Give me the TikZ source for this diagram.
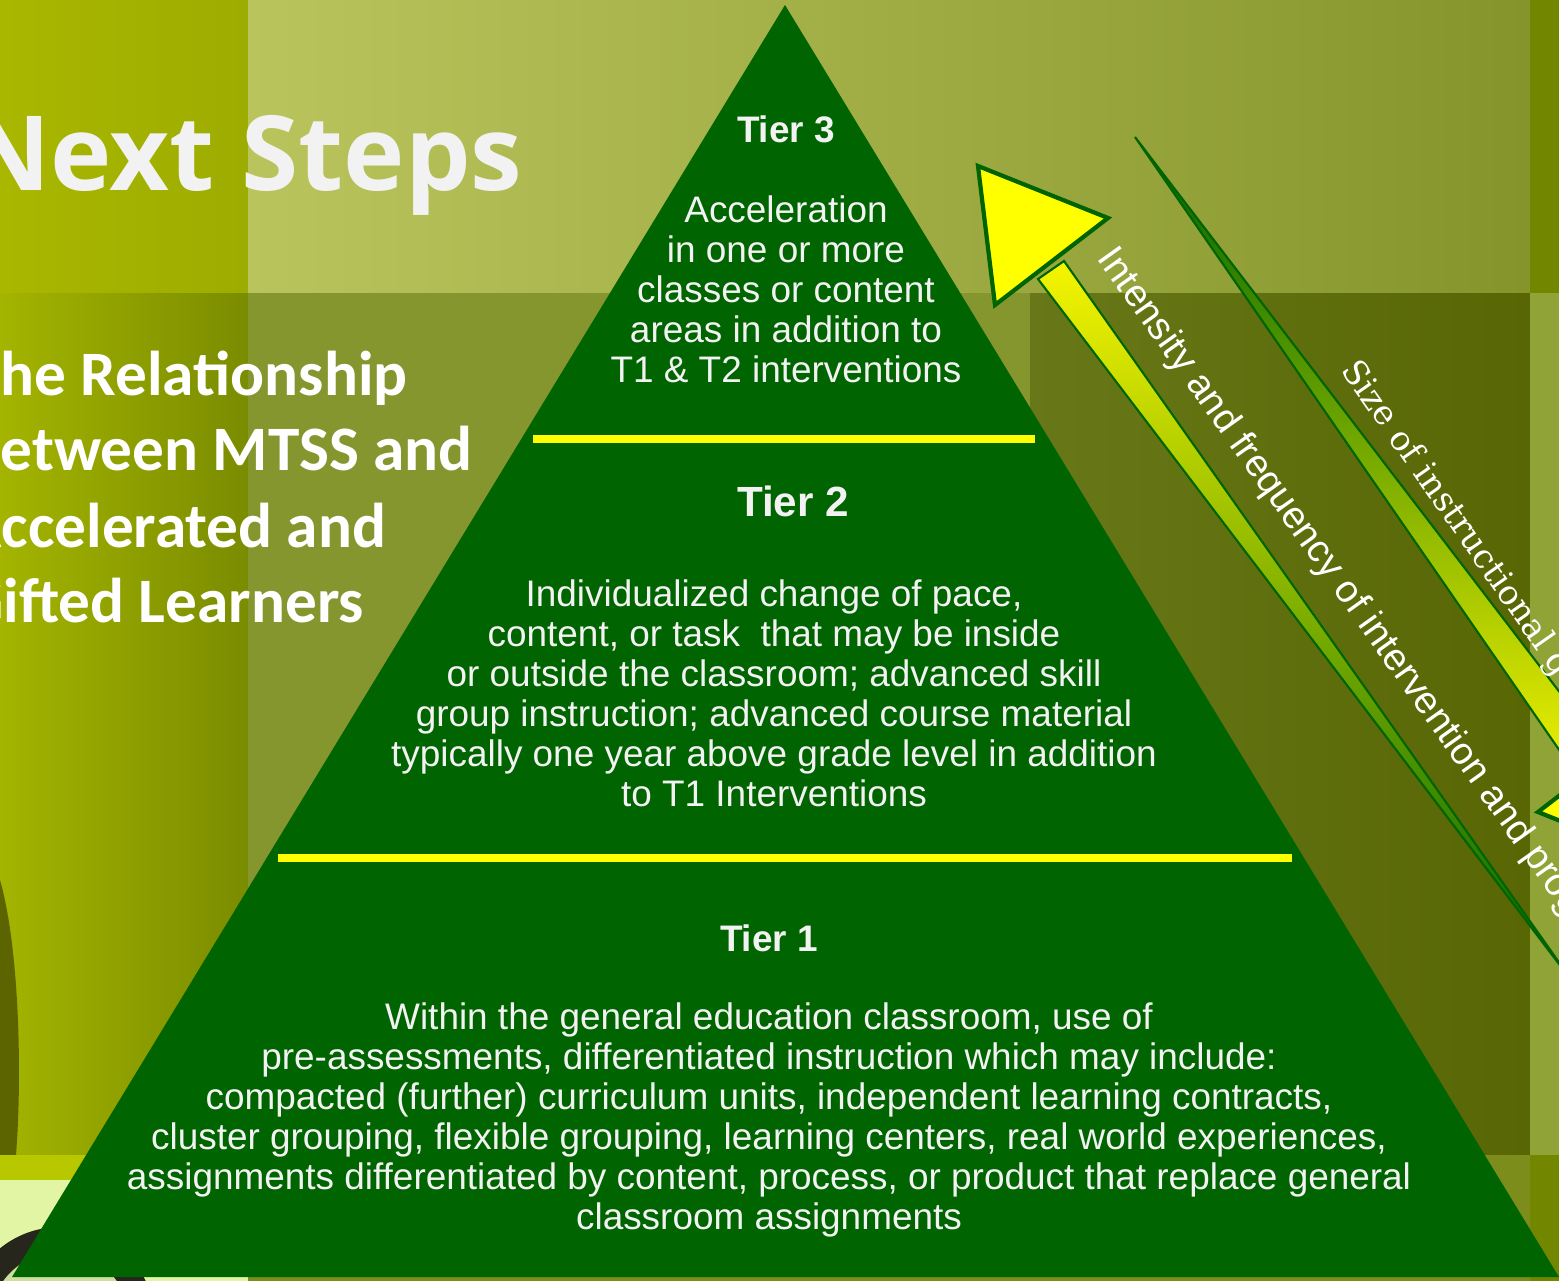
\documentclass[tikz,border=0pt]{standalone}
\usepackage{fontspec}
\setmainfont{Liberation Sans}
\newfontfamily\slidefont{Open Sans}
\newfontfamily\subfont{Carlito}
\newfontfamily\arrowserif{DejaVu Serif}
\definecolor{pyrgreen}{RGB}{0,100,0}
\definecolor{sepyellow}{RGB}{255,255,0}
\definecolor{textwhite}{RGB}{242,242,242}
\definecolor{tla}{RGB}{169,183,0}
\definecolor{tlb}{RGB}{157,172,0}
\definecolor{tma}{RGB}{186,196,92}
\definecolor{tmb}{RGB}{133,149,44}
\definecolor{tr}{RGB}{115,134,0}
\definecolor{mla}{RGB}{164,180,0}
\definecolor{mlb}{RGB}{122,140,0}
\definecolor{mc}{RGB}{134,150,47}
\definecolor{mra}{RGB}{104,120,24}
\definecolor{mrb}{RGB}{88,102,4}
\definecolor{mrstrip}{RGB}{144,163,54}
\definecolor{bandyellow}{RGB}{184,200,0}
\definecolor{palebg}{RGB}{226,245,165}
\definecolor{bottomolive}{RGB}{125,141,28}
\definecolor{darkolive}{RGB}{92,100,0}
\definecolor{ringdark}{RGB}{38,38,28}
\definecolor{shaftmid}{RGB}{120,180,0}
\definecolor{shafttop}{RGB}{245,245,0}
\tikzset{
  tiertitle/.style={text=textwhite, inner sep=0pt, font=\bfseries\fontsize{10.5}{12}\selectfont},
  tierbody/.style={text=textwhite, align=center, inner sep=0pt, font=\fontsize{10.5}{11.38}\selectfont},
  sepline/.style={draw=sepyellow, line width=2pt},
  headtri/.style={fill=sepyellow, draw=pyrgreen, line width=1.2pt, line join=miter},
  shaftline/.style={draw=pyrgreen, line width=0.6pt, line join=miter},
  subline/.style={anchor=base west, inner sep=0pt, text=white, font=\subfont\bfseries\fontsize{18}{21.6}\selectfont}
}
\begin{document}
\begin{tikzpicture}[x=0.01cm, y=-0.01cm]
\useasboundingbox (0,0) rectangle (1559,1281);
\begin{scope}
\clip (0,0) rectangle (1559,1281);
% background panels
\shade[left color=tla, right color=tlb] (0,0) rectangle (248,293);
\shade[left color=tma, right color=tmb] (248,0) rectangle (1530,293);
\fill[tr] (1530,0) rectangle (1559,293);
\shade[left color=mla, right color=mlb] (0,293) rectangle (248,1155);
\fill[mc] (248,293) rectangle (1030,1155);
\shade[left color=mra, right color=mrb] (1030,293) rectangle (1530,1155);
\fill[mrstrip] (1530,293) rectangle (1559,1155);
\fill[darkolive] (0,880) .. controls (20,950) and (22,1080) .. (16,1155) -- (0,1155) -- cycle;
\fill[bandyellow] (0,1155) rectangle (248,1180);
\fill[palebg] (0,1180) rectangle (248,1281);
\fill[bottomolive] (248,1155) rectangle (1530,1281);
\fill[tr] (1530,1155) rectangle (1559,1281);
\fill[ringdark] (60,1322) circle (95);
\fill[palebg!80!gray] (60,1322) circle (70);
% pyramid
\coordinate (apex) at (785,5);
\coordinate (baseR) at (1559,1277);
\coordinate (baseL) at (12,1277);
\fill[pyrgreen] (apex) -- (baseR) -- (baseL) -- cycle;
\draw[sepline] (533,439) -- (1035,439);
\draw[sepline] (278,858) -- (1292,858);
% tiers
\node[tiertitle] (tier3) at (786,129) {Tier 3};
\node[tierbody] (tier3txt) at (786,289) {Acceleration\\in one or more\\classes or content\\areas in addition to\\T1 \& T2 interventions};
\node[tiertitle, font=\bfseries\fontsize{12}{13}\selectfont] (tier2) at (793,501) {Tier 2};
\node[tierbody] (tier2txt) at (774,693) {Individualized change of pace,\\content, or task~ that may be inside\\or outside the classroom; advanced skill\\group instruction; advanced course material\\typically one year above grade level in addition\\to T1 Interventions};
\node[tiertitle] (tier1) at (769,938) {Tier 1};
\node[tierbody] (tier1txt) at (769,1120) {Within the general education classroom, use of\\pre-assessments, differentiated instruction which may include:\\compacted (further) curriculum units, independent learning contracts,\\cluster grouping, flexible grouping, learning centers, real world experiences,\\assignments differentiated by content, process, or product that replace general\\classroom assignments};
% title
\node[anchor=base west, inner sep=0pt, text=textwhite, font=\slidefont\bfseries\fontsize{29.5}{30}\selectfont] (title) at (50,190) {\llap{N}ext Steps};
\node[subline] (sub1) at (0,395) {\llap{T}he Relationship};
\node[subline] (sub2) at (0,470) {\llap{B}etween MTSS and};
\node[subline] (sub3) at (1,547) {\llap{A}ccelerated and};
\node[subline] (sub4) at (3,622) {\llap{G}ifted Learners};
% arrows
\shade[top color=pyrgreen, middle color=shaftmid!85!pyrgreen, bottom color=shafttop!95!shaftmid, shaftline] (1135,137) -- (1610,758) -- (1580,780) -- cycle;
\draw[headtri] (1538,812) -- (1651,725) -- (1668,864) -- cycle;
\shade[top color=shafttop, middle color=shaftmid, bottom color=pyrgreen, shaftline] (1038,279) -- (1064,261) -- (1575,985) -- cycle;
\draw[headtri] (978,166) -- (1108,218) -- (995,305) -- cycle;
\node[anchor=base west, inner sep=0pt, rotate=-54.5, text=white, font=\fontsize{10.9}{12}\selectfont] (intense) at (1096,258) {Intensity and frequency of intervention and prog};
\node[anchor=base west, inner sep=0pt, rotate=-55, text=white, font=\arrowserif\fontsize{9.6}{11}\selectfont] (groupsize) at (1340,370) {Size of instructional g};
\end{scope}
\end{tikzpicture}
\end{document}
